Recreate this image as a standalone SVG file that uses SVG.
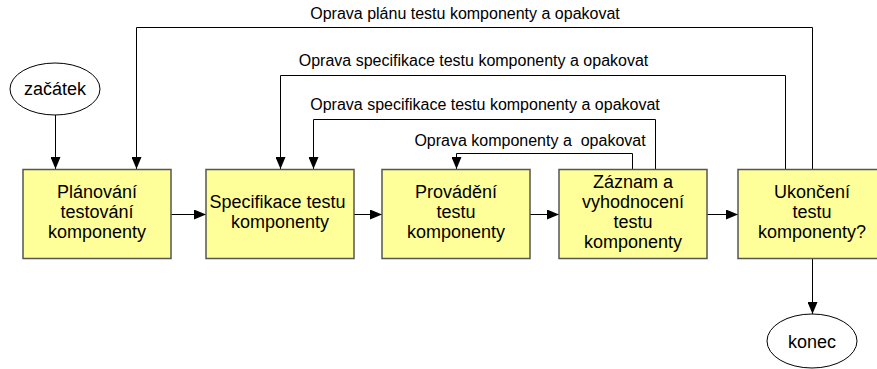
<svg xmlns="http://www.w3.org/2000/svg" width="877" height="369" viewBox="0 0 877 369">
<defs>
<marker id="ah" markerWidth="12" markerHeight="10" refX="12" refY="5" orient="auto" markerUnits="userSpaceOnUse">
<path d="M0,0 L12,5 L0,10 Z" fill="#000"/>
</marker>
<style>
.box{fill:#FFFF99;stroke:#555;stroke-width:1.5}
.ell{fill:#fff;stroke:#000;stroke-width:1}
.t{font-family:"Liberation Sans",Arial,sans-serif;font-size:18px;fill:#000;text-anchor:middle}
.lbl{font-family:"Liberation Sans",Arial,sans-serif;font-size:16px;fill:#000;text-anchor:middle}
.c{fill:none;stroke:#000;stroke-width:1}
.ca{fill:none;stroke:#000;stroke-width:1;marker-end:url(#ah)}
</style>
</defs>
<rect width="877" height="369" fill="#fff"/>
<g id="connectors">
<path class="ca" d="M55.5,115 V169"/>
<path class="ca" d="M171,214.5 H206"/>
<path class="ca" d="M354,214.5 H382"/>
<path class="ca" d="M530,214.5 H559"/>
<path class="ca" d="M707,214.5 H738"/>
<path class="ca" d="M812.5,259 V314"/>
<path class="ca" d="M812.5,169 V27.5 H136.5 V169"/>
<path class="ca" d="M785.5,169 V75.5 H280.5 V169"/>
<path class="ca" d="M655.5,169 V119.5 H313.5 V169"/>
<path class="ca" d="M632.5,169 V153.5 H456.5 V169"/>
<text class="lbl" x="465" y="19">Oprava plánu testu komponenty a opakovat</text>
<text class="lbl" x="473.5" y="66">Oprava specifikace testu komponenty a opakovat</text>
<text class="lbl" x="485" y="110">Oprava specifikace testu komponenty a opakovat</text>
<text class="lbl" x="530" y="146" xml:space="preserve">Oprava komponenty a  opakovat</text>
</g>
<g id="start">
<ellipse class="ell" cx="55" cy="89" rx="45" ry="26"/>
<text class="t" x="55" y="95">začátek</text>
</g>
<g id="n1">
<rect class="box" x="23" y="169.5" width="148" height="89"/>
<text class="t" x="97" y="198">Plánování</text>
<text class="t" x="97" y="218">testování</text>
<text class="t" x="97" y="238">komponenty</text>
</g>
<g id="n2">
<rect class="box" x="206" y="169.5" width="148" height="89"/>
<text class="t" x="277.5" y="208">Specifikace testu</text>
<text class="t" x="280" y="228">komponenty</text>
</g>
<g id="n3">
<rect class="box" x="382" y="169.5" width="148" height="89"/>
<text class="t" x="456" y="198">Provádění</text>
<text class="t" x="456" y="218">testu</text>
<text class="t" x="456" y="238">komponenty</text>
</g>
<g id="n4">
<rect class="box" x="559" y="169.5" width="148" height="89"/>
<text class="t" x="633" y="188">Záznam a</text>
<text class="t" x="633" y="208">vyhodnocení</text>
<text class="t" x="633" y="228">testu</text>
<text class="t" x="633" y="248">komponenty</text>
</g>
<g id="n5">
<rect class="box" x="738" y="169.5" width="148" height="89"/>
<text class="t" x="812" y="198">Ukončení</text>
<text class="t" x="812" y="218">testu</text>
<text class="t" x="812" y="238">komponenty?</text>
</g>
<g id="end">
<ellipse class="ell" cx="812" cy="341" rx="45" ry="27"/>
<text class="t" x="812" y="348">konec</text>
</g>
</svg>
